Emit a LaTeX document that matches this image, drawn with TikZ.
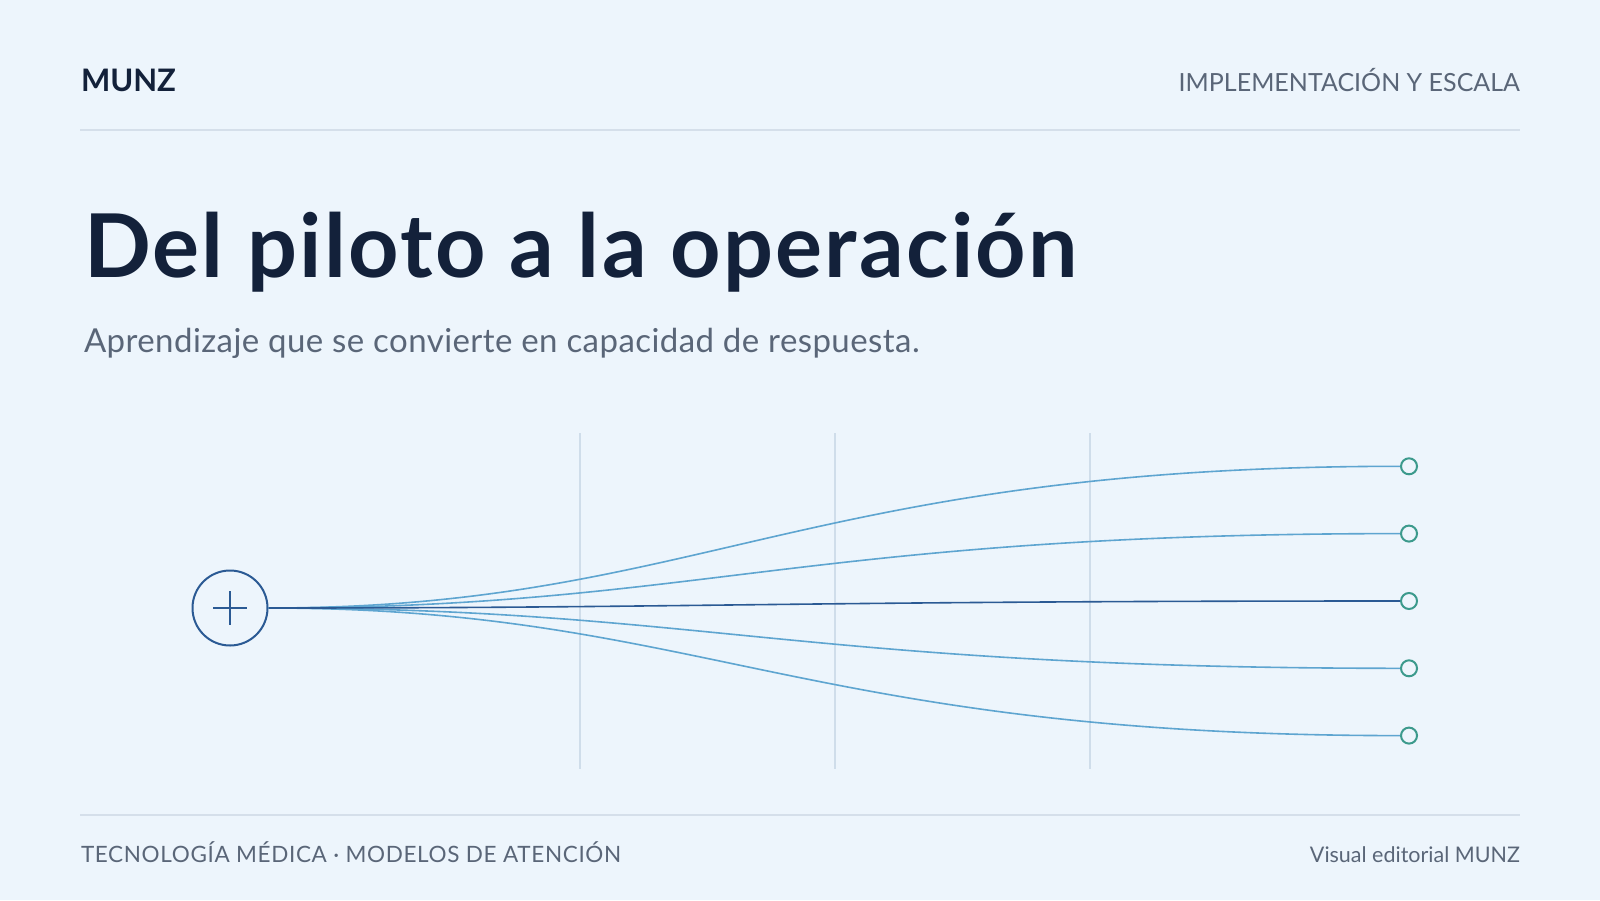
\documentclass[tikz,border=0pt]{standalone}
\usepackage{fontspec}
\setmainfont{Lato}
\definecolor{bg}{HTML}{EDF5FC}
\definecolor{ink}{HTML}{13213A}
\definecolor{greytext}{HTML}{5A6678}
\definecolor{rulec}{HTML}{D5DFEA}
\definecolor{gridc}{HTML}{CFDDEA}
\definecolor{lightc}{HTML}{5EA5D0}
\definecolor{darkc}{HTML}{2B5A94}
\definecolor{tealc}{HTML}{3C9A8C}
\tikzset{
  rulestyle/.style={draw=rulec, line width=1.5pt},
  gridstyle/.style={draw=gridc, line width=1.3pt},
  branch/.style={draw=lightc, line width=1.6pt},
  mainbranch/.style={draw=darkc, line width=1.6pt},
  endpt/.style={circle, draw=tealc, line width=2pt, fill=bg, minimum size=16pt, inner sep=0pt},
  hubstyle/.style={circle, draw=darkc, line width=2pt, fill=bg, minimum size=75pt, inner sep=0pt},
  txt/.style={inner sep=0pt, outer sep=0pt}
}
\begin{document}
\begin{tikzpicture}[x=1pt,y=-1pt]
\fill[bg] (0,0) rectangle (1600,900);
\useasboundingbox (0,0) rectangle (1600,900);
% header
\node[txt, anchor=base west, text=ink, font=\fontsize{31}{36}\selectfont\bfseries] (brand) at (81,91) {MUNZ};
\node[txt, anchor=base east, text=greytext, font=\fontsize{25}{30}\selectfont] (section) at (1520,91) {IMPLEMENTACIÓN Y ESCALA};
\coordinate (hl) at (80,130); \coordinate (hr) at (1520,130);
\draw[rulestyle] (hl) -- (hr);
% title
\node[txt, anchor=base west, text=ink, font=\fontsize{88}{96}\selectfont\bfseries\addfontfeatures{LetterSpace=2.6}] (title) at (84,277) {Del piloto a la operación};
\node[txt, anchor=base west, text=greytext, font=\fontsize{33}{40}\selectfont\addfontfeatures{LetterSpace=1.3}] (subtitle) at (84,352) {Aprendizaje que se convierte en capacidad de respuesta.};
% grid
\foreach \gx [count=\i] in {580,835,1090}{
  \coordinate (gt\i) at (\gx,433);
  \coordinate (gb\i) at (\gx,769);
  \draw[gridstyle] (gt\i) -- (gb\i);
}
% hub
\node[hubstyle] (hub) at (230,608) {};
\coordinate (pl) at (213,608); \coordinate (pr) at (247,608);
\coordinate (pt) at (230,591); \coordinate (pb) at (230,625);
\draw[darkc, line width=2.2pt] (pl) -- (pr) (pt) -- (pb);
% end points
\foreach \ey [count=\i] in {466.3,533.6,601,668.3,735.6}{
  \node[endpt] (e\i) at (1409,\ey) {};
}
% branches
\draw[branch] (hub.east) .. controls (699,608) and (802,466.3) .. (e1.west);
\draw[branch] (hub.east) .. controls (699,608) and (802,533.6) .. (e2.west);
\draw[branch] (hub.east) .. controls (699,608) and (802,668.3) .. (e4.west);
\draw[branch] (hub.east) .. controls (699,608) and (802,735.6) .. (e5.west);
\draw[mainbranch] (hub.east) .. controls (699,608) and (802,601) .. (e3.west);
% footer
\coordinate (fl) at (80,815); \coordinate (fr) at (1520,815);
\draw[rulestyle] (fl) -- (fr);
\node[txt, anchor=base west, text=greytext, font=\fontsize{22.5}{26}\selectfont\addfontfeatures{LetterSpace=2.85}] (foot) at (81,862) {TECNOLOGÍA MÉDICA · MODELOS DE ATENCIÓN};
\node[txt, anchor=base east, text=greytext, font=\fontsize{21.5}{26}\selectfont] (credit) at (1520,862) {Visual editorial MUNZ};
\end{tikzpicture}
\end{document}
